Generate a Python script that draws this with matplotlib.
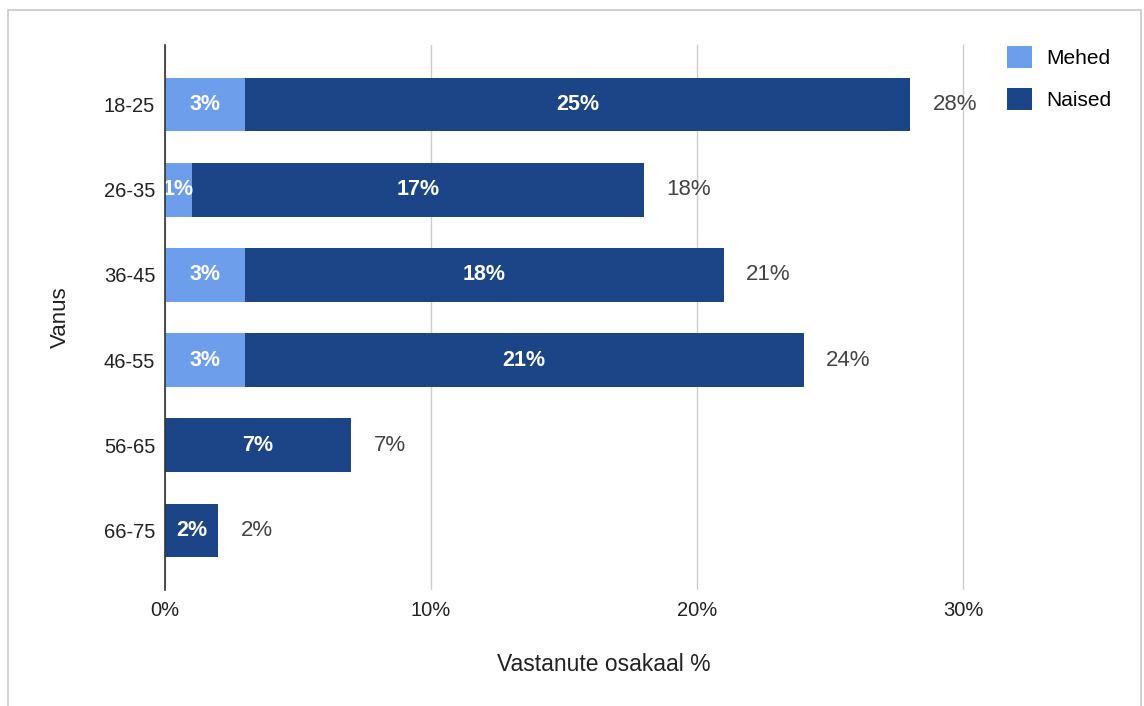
import matplotlib.pyplot as plt
from matplotlib.patches import Patch, Rectangle

plt.rcParams['font.family'] = ['Liberation Sans', 'DejaVu Sans']

# vanusegrupid ja osakaalud (%)
vanus = ['18-25', '26-35', '36-45', '46-55', '56-65', '66-75']
mehed = [3, 1, 3, 3, 0, 0]
naised = [25, 17, 18, 21, 7, 2]
kokku = [m + n for m, n in zip(mehed, naised)]

C_MEHED = '#6d9eeb'
C_NAISED = '#1c4587'

fig = plt.figure(figsize=(11.44, 7.06), dpi=100)
ax = fig.add_axes([0.1442, 0.1643, 0.7675, 0.772])

y = list(range(len(vanus)))
ax.barh(y, mehed, height=0.63, color=C_MEHED, zorder=3)
ax.barh(y, naised, left=mehed, height=0.63, color=C_NAISED, zorder=3)

for i in y:
    if mehed[i] > 0:
        ax.text(mehed[i] / 2, i, f'{mehed[i]}%', ha='center', va='center',
                color='white', fontsize=15.5, fontweight='bold', zorder=4)
    ax.text(mehed[i] + naised[i] / 2, i, f'{naised[i]}%', ha='center', va='center',
            color='white', fontsize=15.5, fontweight='bold', zorder=4)
    ax.text(kokku[i] + 0.85, i, f'{kokku[i]}%', ha='left', va='center',
            color='#444444', fontsize=16, zorder=4)

ax.set_xlim(0, 33)
ax.set_ylim(5.7, -0.7)
ax.set_xticks([0, 10, 20, 30])
ax.set_xticklabels(['0%', '10%', '20%', '30%'], fontsize=14.5, color='#222222')
ax.set_yticks(y)
ax.set_yticklabels(vanus, fontsize=14.5, color='#222222')
ax.tick_params(length=0, pad=7)
ax.tick_params(axis='x', pad=8)
ax.grid(axis='x', color='#cccccc', linewidth=1, zorder=0)
for s in ['top', 'right', 'bottom']:
    ax.spines[s].set_visible(False)
ax.spines['left'].set_color('#333333')
ax.spines['left'].set_linewidth(1.2)
ax.spines['left'].set_zorder(5)

ax.set_xlabel('Vastanute osakaal %', fontsize=16.5, color='#222222', labelpad=24)
ax.set_ylabel('Vanus', fontsize=16, color='#222222', labelpad=24)

handles = [Patch(facecolor=C_MEHED, label='Mehed'),
           Patch(facecolor=C_NAISED, label='Naised')]
fig.legend(handles=handles, loc='upper left', bbox_to_anchor=(0.864, 0.962),
           frameon=False, fontsize=15, handlelength=1.2, handleheight=1.25,
           labelspacing=1.0, handletextpad=0.7)

# raam ümber joonise
fig.patches.append(Rectangle((0.007, -0.01), 0.99, 0.996, transform=fig.transFigure,
                             fill=False, edgecolor='#c8c8c8', linewidth=1.2))

fig.savefig('out.png', dpi=100, facecolor='white')
